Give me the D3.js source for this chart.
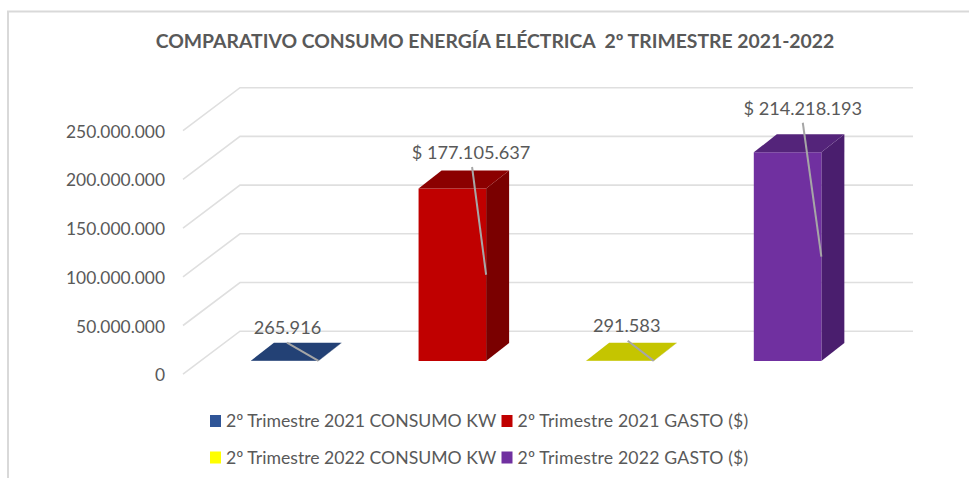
<!DOCTYPE html>
<html><head><meta charset="utf-8">
<script src="https://cdn.jsdelivr.net/npm/d3@7"></script>
<style>html,body{margin:0;padding:0;background:#fff}svg{display:block}text{font-family:Lato,"Open Sans",sans-serif;white-space:pre}</style>
</head><body><svg id="c" width="969" height="478"></svg>
<script>
const titleText = "COMPARATIVO CONSUMO ENERGÍA ELÉCTRICA  2º TRIMESTRE 2021-2022";
const categories = ["2º Trimestre 2021 CONSUMO KW","2º Trimestre 2021 GASTO ($)","2º Trimestre 2022 CONSUMO KW","2º Trimestre 2022 GASTO ($)"];
const values = [265916,177105637,291583,214218193];
const valueLabels = ["265.916","$ 177.105.637","291.583","$ 214.218.193"];
const tickValues = [0,50000000,100000000,150000000,200000000,250000000];
const tickLabels = ["0","50.000.000","100.000.000","150.000.000","200.000.000","250.000.000"];
const frontColors = ["#264478","#C00000","#C5C500","#7030A0"];
const topColors = ["#234175","#8B0000","#C5C500","#54247A"];
const sideColors = ["#1b3157","#7A0000","#8f8f00","#4A1E6E"];
const legendColors = ["#2F5597","#C00000","#FFFF00","#7030A0"];
// layout: label centre relative to bar left / top, leader start relative to the same
const labelDx = [36.5,52.5,40.5,49];
const labelDy = [-26.5,-29,-28.5,-37.5];
const leaderDx = [36,53.5,41.5,49];
const leaderDy = [-18,-21.5,-20,-29.6];

const svg = d3.select("#c");
const gridColor="#dfdfdf", textColor="#595959";
svg.append("path").attr("d","M8,478V11.5H969").attr("fill","none").attr("stroke","#d9d9d9").attr("stroke-width",2);

svg.append("text").attr("x",495).attr("y",48).attr("text-anchor","middle")
  .attr("font-size",19.35).attr("font-weight",700).attr("fill",textColor).text(titleText);

const y = d3.scaleLinear().domain([0,250000000]).range([361,117.5]);
const x = d3.scaleBand().domain(categories).range([201,871.3]).paddingInner(0.597).paddingOuter(0.298);
const dBar=[23,-18];
const wallOff=[57,-43];
const wallBase=13.2;
const wallLeft=183, wallRight=913;

const grid=svg.append("g");
tickValues.forEach(t=>{
  const yf=y(t)+wallBase;
  grid.append("path").attr("fill","none").attr("stroke",gridColor).attr("stroke-width",1.6)
    .attr("d",`M${wallLeft},${yf}L${wallLeft+wallOff[0]},${yf+wallOff[1]}H${wallRight}`);
});
svg.append("g").selectAll("text").data(tickValues).join("text")
  .attr("x",165).attr("y",d=>y(d)+wallBase+7).attr("text-anchor","end")
  .attr("font-size",17.4).attr("fill",textColor).text((d,i)=>tickLabels[i]);

const bars=svg.append("g");
categories.forEach((c,i)=>{
  const x0=x(c),x1=x0+x.bandwidth(),yb=y(0),yt=y(values[i]);
  const [dx,dy]=dBar;
  bars.append("path").attr("fill",sideColors[i]).attr("d",`M${x1},${yb}L${x1+dx},${yb+dy}V${yt+dy}L${x1},${yt}Z`);
  bars.append("path").attr("fill",frontColors[i]).attr("d",`M${x0},${yt}H${x1}V${yb}H${x0}Z`);
  bars.append("path").attr("fill",topColors[i]).attr("d",`M${x0},${yt}L${x0+dx},${yt+dy}H${x1+dx}L${x1},${yt}Z`);
  bars.append("line").attr("x1",x0+leaderDx[i]).attr("y1",yt+leaderDy[i]).attr("x2",x1).attr("y2",(yt+yb)/2)
    .attr("stroke","#a6a6a6").attr("stroke-width",2);
  svg.append("text").attr("x",x0+labelDx[i]).attr("y",yt+labelDy[i]).attr("text-anchor","middle")
    .attr("font-size",18.2).attr("fill",textColor).text(valueLabels[i]);
});

const lx=[210,501.5], ly=[421,457.5];
categories.forEach((c,i)=>{
  const col=i%2,row=i>>1;
  svg.append("rect").attr("x",lx[col]).attr("y",ly[row]-6).attr("width",11).attr("height",12).attr("fill",legendColors[i]);
  svg.append("text").attr("x",lx[col]+16).attr("y",ly[row]+6).attr("font-size",17.65)
    .attr("letter-spacing",col?0.18:0).attr("fill",textColor).text(c);
});
</script></body></html>
